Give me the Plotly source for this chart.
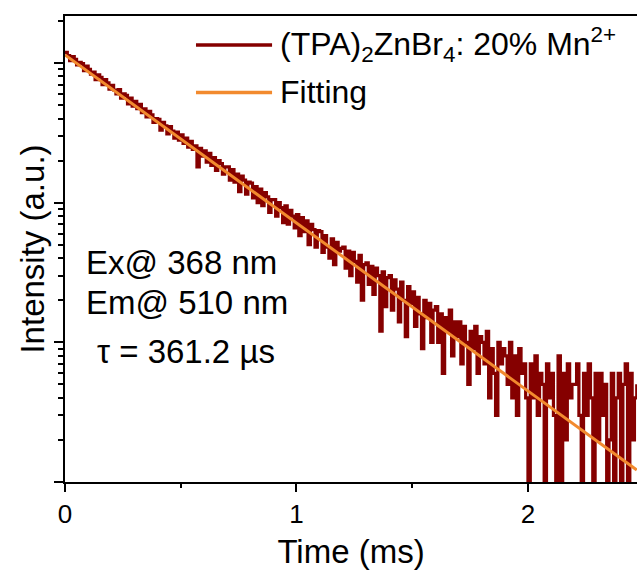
import plotly.graph_objects as go

# ---- data ----
time_step_ms = 0.01
counts = [
    1190, 1130, 1040, 1110, 1060, 970, 1010, 990, 880, 950,
    900, 830, 860, 760, 820, 790, 700, 760, 720, 650,
    690, 640, 600, 645, 560, 600, 585, 510, 560, 490,
    530, 470, 505, 440, 470, 410, 450, 425, 375, 400,
    395, 330, 375, 355, 310, 350, 325, 290, 320, 280,
    305, 265, 290, 250, 275, 240, 255, 180, 245, 215,
    235, 195, 225, 185, 210, 170, 200, 190, 160, 180,
    180, 145, 172, 140, 160, 120, 155, 145, 115, 140,
    138, 108, 130, 100, 125, 95, 118, 110, 85, 105,
    105, 80, 100, 92, 72, 95, 70, 88, 80, 66,
    82, 58, 78, 62, 74, 50, 70, 64, 48, 63,
    62, 44, 58, 48, 40, 55, 36, 52, 45, 47,
    48, 34, 45, 30, 44, 38, 27, 42, 20, 36,
    37, 26, 35, 22, 34, 30, 12, 32, 18, 29,
    30, 17, 28, 24, 14, 27, 20, 11, 25, 19,
    23, 13, 21, 16, 9, 20, 15, 19, 10, 17,
    18, 10, 16, 6, 15, 12, 17, 8, 14, 11,
    14, 7, 13, 10, 5, 12, 9, 13, 6, 11,
    10, 7, 12, 4, 9, 6, 3, 10, 7, 9,
    8, 5, 10, 4, 8, 3, 9, 6, 7, 4,
    1, 7, 4, 8, 3, 6, 5, 1, 7, 4,
    6, 3, 1, 8, 1, 6, 2, 7, 4, 5,
    5, 7, 3, 1, 6, 3, 7, 4, 1, 6,
    2, 6, 3, 5, 1, 2, 6, 1, 4, 6,
    1, 5, 7, 1, 6, 2, 4, 5,
]
time_ms = [round(i * time_step_ms, 4) for i in range(len(counts))]

fit_time_ms = [0.0, 0.5, 1.0, 1.5, 2.0, 2.47]
fit_counts = [1140, 286, 71.6, 17.9, 4.5, 1.22]

series_name = "(TPA)<sub>2</sub>ZnBr<sub>4</sub>: 20% Mn<sup>2+</sup>"
fit_name = "Fitting"
notes = ["Ex@ 368 nm", "Em@ 510 nm", "\u03c4 = 361.2 \u00b5s"]

DATA_COLOR = "#850000"
FIT_COLOR = "#F28A2E"
FONT = "Liberation Sans, Arial, sans-serif"

fig = go.Figure()
fig.add_trace(go.Scatter(x=time_ms, y=counts, mode="lines", name=series_name,
                         line=dict(color=DATA_COLOR, width=3.2, shape="hv"), showlegend=False))
fig.add_trace(go.Scatter(x=fit_time_ms, y=fit_counts, mode="lines", name=fit_name,
                         line=dict(color=FIT_COLOR, width=3), showlegend=False))

# custom legend (long line samples)
legend_rows = [(series_name, DATA_COLOR, 0.938), (fit_name, FIT_COLOR, 0.836)]
shapes = []
annotations = []
for name, col, yy in legend_rows:
    shapes.append(dict(type="line", xref="paper", yref="paper", x0=0.229, x1=0.362,
                       y0=yy, y1=yy, line=dict(color=col, width=3.5)))
    annotations.append(dict(xref="paper", yref="paper", x=0.372, y=yy, text=name,
                            showarrow=False, xanchor="left", yanchor="middle",
                            font=dict(family=FONT, size=32, color="black")))

note_pos = [(0.033, 0.472), (0.033, 0.386), (0.053, 0.281)]
for txt, (nx, ny) in zip(notes, note_pos):
    annotations.append(dict(xref="paper", yref="paper", x=nx, y=ny, text=txt,
                            showarrow=False, xanchor="left", yanchor="middle",
                            font=dict(family=FONT, size=33, color="black")))

fig.update_layout(
    width=637, height=576,
    margin=dict(l=65, r=0, t=16, b=94),
    paper_bgcolor="white", plot_bgcolor="white",
    font=dict(family=FONT, color="black"),
    shapes=shapes, annotations=annotations,
    xaxis=dict(
        range=[0, 2.471], dtick=1, tick0=0,
        ticks="outside", ticklen=8, tickwidth=1.5, tickcolor="black",
        showline=True, linecolor="black", linewidth=1.5, mirror=True,
        showgrid=False, zeroline=False,
        tickfont=dict(family=FONT, size=26, color="black"),
        title=dict(text="Time (ms)", font=dict(family=FONT, size=33, color="black"), standoff=12),
        minor=dict(dtick=0.5, ticks="outside", ticklen=4, tickwidth=1.5, tickcolor="black", showgrid=False),
    ),
    yaxis=dict(
        type="log", range=[0, 3.336], dtick=1,
        ticks="outside", ticklen=9, tickwidth=1.5, tickcolor="black",
        showticklabels=False,
        showline=True, linecolor="black", linewidth=1.5, mirror=False,
        showgrid=False, zeroline=False,
        title=dict(text="Intensity (a.u.)", font=dict(family=FONT, size=33, color="black"), standoff=0),
        minor=dict(dtick="D1", ticks="outside", ticklen=5, tickwidth=1.5, tickcolor="black", showgrid=False),
    ),
)

fig.write_html("out.html")
